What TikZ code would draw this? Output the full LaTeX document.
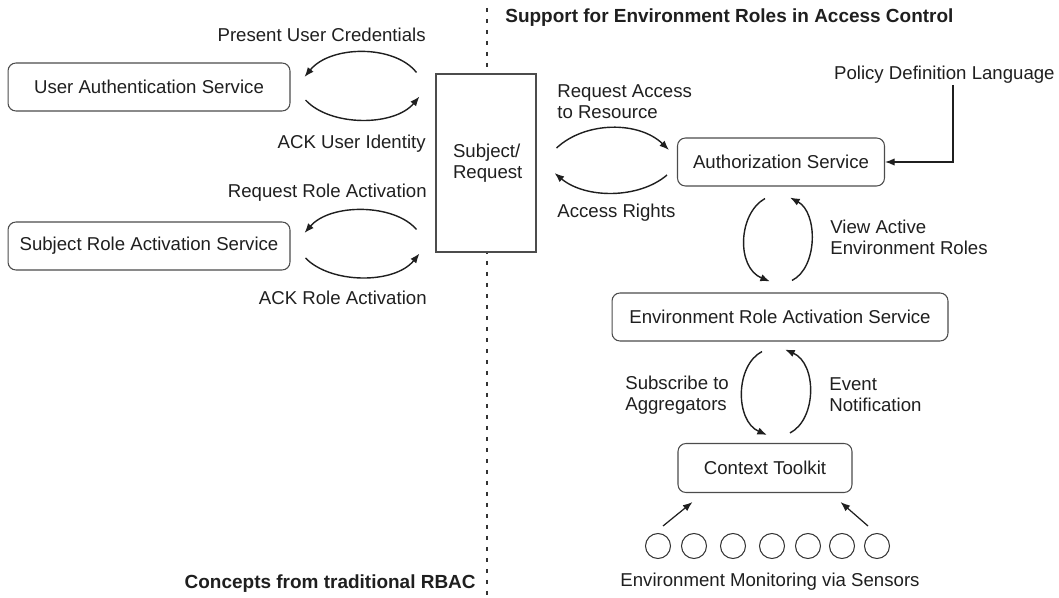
\documentclass[tikz,border=0pt]{standalone}
\usepackage{fontspec}
\setmainfont{Liberation Sans}
\usetikzlibrary{arrows.meta}

\begin{document}
\begin{tikzpicture}[x=0.02cm,y=-0.02cm,
    font=\fontsize{10.6}{12}\selectfont, text=black!88,
    service/.style={draw=black!70, line width=0.6pt, rounded corners=4.5pt, fill=white, minimum height=0.96cm, inner sep=0pt},
    lbl/.style={inner sep=0pt, align=left},
    flow/.style={line width=0.8pt, draw=black!88, -{Latex[length=5.5pt,width=4.2pt]}},
    sensor/.style={circle, draw=black!80, line width=0.6pt, minimum size=0.5cm, inner sep=0pt}]
    \useasboundingbox (0,0) rectangle (1059,598);
    % border between the two halves
    \draw[black!80, line width=1.2pt, dash pattern=on 0.08cm off 0.14cm] (487,8)--(487,598);
    \node[lbl, anchor=west, font=\fontsize{10.8}{12}\selectfont\bfseries] (supp) at (505,18) {Support for Environment Roles in Access Control};
    \node[lbl, anchor=east, font=\fontsize{10.8}{12}\selectfont\bfseries] (conc) at (476,584) {Concepts from traditional RBAC};

    % left side
    \node[service, minimum width=5.64cm] (uas) at (149,87) {User Authentication Service};
    \node[service, minimum width=5.64cm] (sras) at (149,246) {Subject Role Activation Service};
    \node[draw=black!70, line width=0.6pt, fill=white, minimum width=2cm, minimum height=3.56cm, text width=1.32cm, align=left, inner sep=0pt] (sr) at (486,163) {Subject/\\Request};
    \node[lbl, anchor=east] (puc) at (426,35) {Present User Credentials};
    \node[lbl, anchor=east] (ackid) at (426,144) {ACK User Identity};
    \node[lbl, anchor=east] (rra) at (427,193) {Request Role Activation};
    \node[lbl, anchor=east] (ackra) at (427,298) {ACK Role Activation};
    \draw[flow] ([shift={(-19,-1)}]sr.north west) .. controls +(-22,-28) and +(26,-32) .. ([shift={(14,-10)}]uas.east);
    \draw[flow] ([shift={(15,13)}]uas.east) .. controls +(25,27) and +(-25,30) .. ([shift={(-16,23)}]sr.north west);
    \draw[flow] ([shift={(-19,-23)}]sr.south west) .. controls +(-22,-26) and +(26,-30) .. ([shift={(14,-13)}]sras.east);
    \draw[flow] ([shift={(15,12)}]sras.east) .. controls +(25,26) and +(-25,31) .. ([shift={(-16,1)}]sr.south west);

    % right side
    \node[service, minimum width=4.14cm] (auth) at (781,162) {Authorization Service};
    \node[service, minimum width=6.72cm] (eras) at (780,317) {Environment Role Activation Service};
    \node[service, minimum width=3.48cm, minimum height=0.98cm] (ct) at (765,468) {Context Toolkit};
    \node[lbl, anchor=east] (pdl) at (1055,75) {Policy Definition Language};
    \coordinate (pdlfoot) at (953,85);
    \draw[flow, line width=0.7pt] (pdlfoot) |- (auth.east);
    \node[lbl, anchor=west] (rar) at (557,102) {Request Access\\to Resource};
    \node[lbl, anchor=west] (ar) at (557,213) {Access Rights};
    \node[lbl, anchor=west] (vaer) at (830,237) {View Active\\Environment Roles};
    \node[lbl, anchor=west] (sta) at (625,395) {Subscribe to\\Aggregators};
    \node[lbl, anchor=west] (en) at (829,395) {Event\\Notification};
    \draw[flow] ([shift={(20,-15)}]sr.east) .. controls +(29,-27) and +(-30,-29) .. ([shift={(-8,-12)}]auth.west);
    \draw[flow] ([shift={(-10,13)}]auth.west) .. controls +(-28,24) and +(31,26) .. ([shift={(18,10)}]sr.east);
    \draw[flow] ([shift={(-16,12)}]auth.south) .. controls +(-27,15) and +(-34,-14) .. ([shift={(-10,-11)}]eras.north);
    \draw[flow] ([shift={(12,-12)}]eras.north) .. controls +(26,-13) and +(28,15) .. ([shift={(9,11)}]auth.south);
    \draw[flow] ([shift={(-18,10)}]eras.south) .. controls +(-27,14) and +(-32,-14) .. ([shift={(2,-8)}]ct.north);
    \draw[flow] ([shift={(25,-10)}]ct.north) .. controls +(27,-14) and +(32,14) .. ([shift={(5,8)}]eras.south);

    % sensors
    \foreach \x [count=\i] in {658,694,733,772,808,842,877}
        \node[sensor] (s\i) at (\x,546) {};
    \draw[flow, line width=0.7pt] ([shift={(5,-20)}]s1.center) -- ([shift={(15,9)}]ct.south west);
    \draw[flow, line width=0.7pt] ([shift={(-9,-20)}]s7.center) -- ([shift={(-12,9)}]ct.south east);
    \node[lbl] (emvs) at (770,582) {Environment Monitoring via Sensors};
\end{tikzpicture}
\end{document}
